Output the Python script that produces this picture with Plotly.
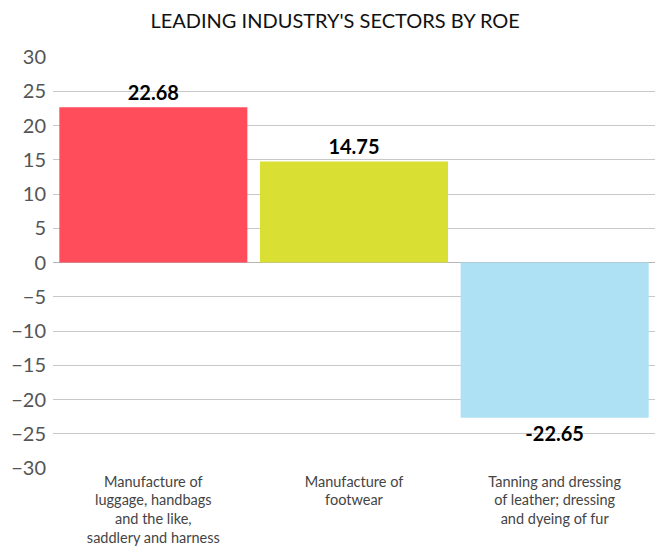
import plotly.graph_objects as go

categories = ["Manufacture of<br>luggage, handbags<br>and the like,<br>saddlery and harness",
              "Manufacture of<br>footwear",
              "Tanning and dressing<br>of leather; dressing<br>and dyeing of fur"]
values = [22.68, 14.75, -22.65]
labels = ["22.68", "14.75", "-22.65"]
colors = ["#FF4D5B", "#D9E033", "#ADE1F3"]
tick_vals = [-30, -25, -20, -15, -10, -5, 0, 5, 10, 15, 20, 25, 30]

fig = go.Figure(go.Bar(
    x=categories, y=values, text=labels, textposition="outside",
    marker=dict(color=colors, line=dict(width=0)),
    textfont=dict(family="Lato", size=20, color="#000000", weight="bold"),
    cliponaxis=False, width=0.937,
))
fig.update_layout(
    width=665, height=546,
    margin=dict(l=45, r=18, t=49, b=86, autoexpand=False),
    paper_bgcolor="white", plot_bgcolor="white",
    title=dict(text="LEADING INDUSTRY'S SECTORS BY ROE", x=0.492, xref="container",
               xanchor="center", y=0.976, yanchor="middle",
               font=dict(family="Lato", size=20, color="#111111")),
    showlegend=False,
    font=dict(family="Lato"),
)
fig.update_yaxes(range=[-30, 30], tickvals=tick_vals, showgrid=True, gridcolor="#C8C8C8",
                 gridwidth=1, zeroline=True, zerolinecolor="#B5B5B5", zerolinewidth=1,
                 tickfont=dict(size=20, color="#555555"), ticks="", ticklabelstandoff=6,
                 automargin=False)
fig.update_xaxes(showgrid=False, tickfont=dict(size=14.5, color="#444444"), ticks="",
                 showline=False, automargin=False, ticklabelstandoff=3)
fig.write_html("out.html", config={"displayModeBar": False})
